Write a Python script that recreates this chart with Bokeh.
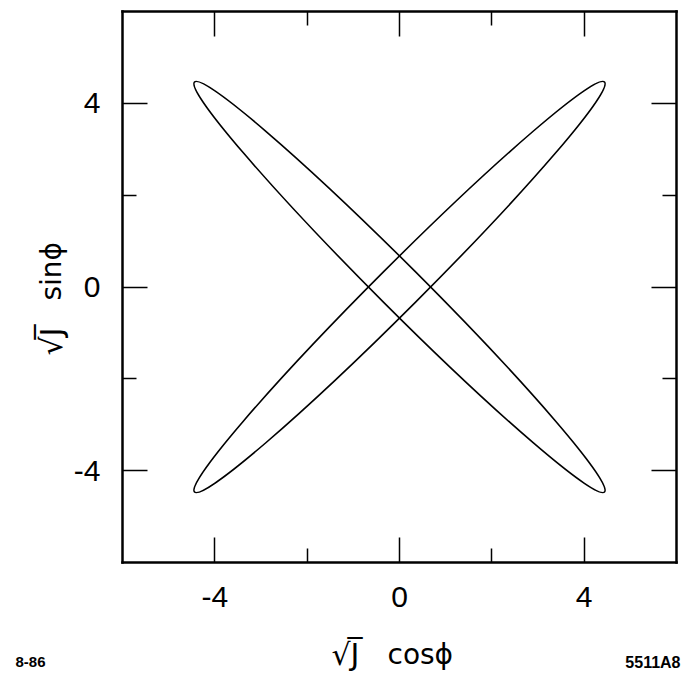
import math

from bokeh.plotting import figure
from bokeh.models import LinearAxis, FixedTicker, Range1d, Label
from bokeh.embed import file_html
from bokeh.resources import INLINE

# Invariant curves in the (sqrt(J) cos phi, sqrt(J) sin phi) plane:
# two long, thin ellipses crossing at the origin.
ellipse_cx = [0.0, 0.0]
ellipse_cy = [0.0, 0.0]
ellipse_length = [12.56, 12.56]   # full extent along the major axis
ellipse_thickness = [0.96, 0.96]  # full extent along the minor axis
ellipse_tilt_deg = [45.0, -45.0]

major_ticks = [-4, 0, 4]
major_tick_text = ["-4", "0", "4"]
minor_ticks = [-2, 2]
axis_min, axis_max = -6, 6

root_part = "\u221aJ\u0305"
x_trig = "cos\u03d5"
y_trig = "sin\u03d5"
date_tag = "8-86"
fig_tag = "5511A8"

FONT = "Liberation Sans"
TITLE_FONT = "DejaVu Sans"

W, H = 684, 676
# pixel placement of the boxed plotting area inside the canvas
BOX_L, BOX_R, BOX_T, BOX_B = 122, 676, 11, 562

# The drawing area spans the whole canvas; the box and its ticks are axes
# pinned at the edges of the -6..6 square, so the titles around it stay visible.
sx = (BOX_R - BOX_L) / (axis_max - axis_min)
sy = (BOX_B - BOX_T) / (axis_max - axis_min)
x_range = Range1d(axis_min - BOX_L / sx, axis_max + (W - BOX_R) / sx)
y_range = Range1d(axis_min - (H - BOX_B) / sy, axis_max + BOX_T / sy)

p = figure(
    width=W, height=H, x_range=x_range, y_range=y_range,
    x_axis_location=None, y_axis_location=None,
    output_backend="svg", toolbar_location=None,
    min_border=0, min_border_left=0, min_border_right=0,
    min_border_top=0, min_border_bottom=0,
    background_fill_color="white", border_fill_color="white",
)
p.grid.visible = False
p.outline_line_color = None

p.ellipse(
    x=ellipse_cx, y=ellipse_cy,
    width=ellipse_length, height=ellipse_thickness,
    angle=[math.radians(a) for a in ellipse_tilt_deg],
    fill_color=None, line_color="black", line_width=1.6,
)

sides = {"left": axis_min, "right": axis_max, "below": axis_min, "above": axis_max}
for side, loc in sides.items():
    ax = LinearAxis(fixed_location=loc, bounds=(axis_min, axis_max))
    ax.ticker = FixedTicker(ticks=major_ticks, minor_ticks=minor_ticks)
    ax.axis_line_color = "black"
    ax.axis_line_width = 2.5
    ax.axis_line_cap = "square"
    ax.major_tick_line_color = "black"
    ax.major_tick_line_width = 1.5
    ax.minor_tick_line_color = "black"
    ax.minor_tick_line_width = 1.5
    ax.major_tick_in = 25
    ax.major_tick_out = 0
    ax.minor_tick_in = 14
    ax.minor_tick_out = 0
    ax.major_label_text_font = FONT
    ax.major_label_text_font_size = "30px"
    ax.major_label_text_color = "black"
    if side in ("left", "below"):
        ax.major_label_overrides = dict(zip(major_ticks, major_tick_text))
        ax.major_label_standoff = 24 if side == "below" else 22
    else:
        ax.major_label_overrides = {t: "" for t in major_ticks}
        ax.major_label_standoff = 0
    p.add_layout(ax, side)


def add_text(text, cx, cy, size, font=TITLE_FONT, align="left",
             baseline="alphabetic", angle=0.0, style="normal"):
    """Place a text at canvas pixel (cx, cy), measured from the top-left."""
    p.add_layout(Label(
        x=cx, y=H - cy, x_units="screen", y_units="screen",
        text=text, angle=angle, text_align=align, text_baseline=baseline,
        text_font=font, text_font_size=size, text_font_style=style,
        text_color="black",
    ))


# horizontal axis title
add_text(root_part, 331, 654, "30px")
add_text(x_trig, 387, 654, "28px")
# vertical axis title, reading upwards
add_text(root_part, 51, 355, "30px", angle=math.pi / 2)
add_text(y_trig, 51, 300, "28px", angle=math.pi / 2)

# corner tags
add_text(date_tag, 15, 661, "15px", font=FONT, baseline="middle", style="bold")
add_text(fig_tag, 680, 662, "16px", font=FONT, align="right", baseline="middle",
         style="bold")

open("out.html", "w").write(file_html(p, INLINE))
